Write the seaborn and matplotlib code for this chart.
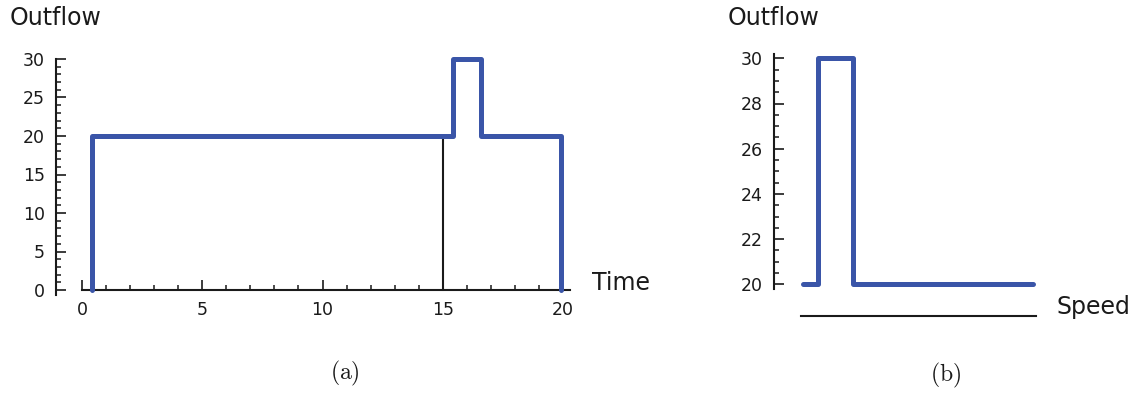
import matplotlib
matplotlib.use("Agg")
import matplotlib.pyplot as plt
import seaborn as sns
import pandas as pd
import numpy as np
from matplotlib.ticker import FixedLocator

# ---- data ----
time_pts = [0.42, 0.42, 15.43, 15.43, 16.6, 16.6, 19.9, 19.9]
outflow_time = [0, 20, 20, 30, 30, 20, 20, 0]
marker_time = [15, 15]
marker_level = [0, 20]

speed_pts = [0.0, 0.64, 0.64, 2.17, 2.17, 10.0]
outflow_speed = [20, 20, 30, 30, 20, 20]

xticks_a = [0, 5, 10, 15, 20]
yticks_a = [0, 5, 10, 15, 20, 25, 30]
yticks_b = [20, 22, 24, 26, 28, 30]

sns.set_style("ticks")
plt.rcParams["font.family"] = ["DejaVu Sans"]
plt.rcParams["mathtext.fontset"] = "cm"

W, H = 1141, 393
fig = plt.figure(figsize=(W / 100, H / 100), dpi=100)
blue = "#3a55a8"
ink = "#1a1a1a"

def px_axes(left, top, width, height):
    return fig.add_axes([left / W, 1 - (top + height) / H, width / W, height / H])

# ---------- panel (a) ----------
sx = (563 - 82) / 20.0
sy = (290 - 59) / 30.0
xl, xr = -1.3, 21.0
yb, yt = -1.0, 31.0
axa = px_axes(82 + xl * sx, 59 - (yt - 30) * sy, (xr - xl) * sx, (yt - yb) * sy)
df_a = pd.DataFrame({"t": time_pts, "q": outflow_time})
sns.lineplot(data=df_a, x="t", y="q", sort=False, estimator=None, ax=axa,
             color=blue, linewidth=3.6, clip_on=False, zorder=3)
sns.lineplot(x=marker_time, y=marker_level, sort=False, estimator=None, ax=axa,
             color=ink, linewidth=1.5, zorder=2)
axa.set_xlim(xl, xr)
axa.set_ylim(yb, yt)
for s in ["top", "right"]:
    axa.spines[s].set_visible(False)
axa.spines["bottom"].set_position(("data", 0))
axa.spines["bottom"].set_bounds(0, 20.3)
axa.spines["left"].set_position(("data", -1.08))
axa.spines["left"].set_bounds(-0.6, 30)
for s in ["bottom", "left"]:
    axa.spines[s].set_linewidth(1.5)
    axa.spines[s].set_color(ink)
axa.set_xticks(xticks_a)
axa.set_yticks(yticks_a)
axa.xaxis.set_minor_locator(FixedLocator(np.arange(xticks_a[0], xticks_a[-1] + 0.5, 1)))
axa.yaxis.set_minor_locator(FixedLocator(np.arange(yticks_a[0], yticks_a[-1] + 0.5, 1)))
axa.tick_params(which="major", direction="in", length=7, width=1.2, color=ink,
                labelsize=12.5, labelcolor=ink, pad=8)
axa.tick_params(which="minor", direction="in", length=3.5, width=1.1, color=ink)
axa.set_xlabel("")
axa.set_ylabel("")
fig.text(10 / W, 1 - 18 / H, "Outflow", fontsize=17, color=ink, ha="left", va="center")
fig.text(592 / W, 1 - 283 / H, "Time", fontsize=17, color=ink, ha="left", va="center")
fig.text(345 / W, 1 - 373 / H, r"$\mathrm{(a)}$", fontsize=17, color=ink, ha="center", va="center")

# ---------- panel (b) ----------
bx = (1033 - 803) / 10.0
by = (284.3 - 58.3) / 10.0
bxl, bxr = -1.5, 10.5
byb, byt = 18.3, 30.5
axb = px_axes(803 + bxl * bx, 58.3 - (byt - 30) * by, (bxr - bxl) * bx, (byt - byb) * by)
df_b = pd.DataFrame({"v": speed_pts, "q": outflow_speed})
sns.lineplot(data=df_b, x="v", y="q", sort=False, estimator=None, ax=axb,
             color=blue, linewidth=3.6, zorder=3)
axb.set_xlim(bxl, bxr)
axb.set_ylim(byb, byt)
for s in ["top", "right"]:
    axb.spines[s].set_visible(False)
axb.spines["bottom"].set_position(("data", 18.6))
axb.spines["bottom"].set_bounds(-0.1, 10.13)
axb.spines["left"].set_position(("data", -1.26))
axb.spines["left"].set_bounds(19.78, 30.2)
for s in ["bottom", "left"]:
    axb.spines[s].set_linewidth(1.5)
    axb.spines[s].set_color(ink)
axb.set_xticks([])
axb.set_yticks(yticks_b)
axb.yaxis.set_minor_locator(FixedLocator(np.arange(yticks_b[0], yticks_b[-1] + 0.25, 0.5)))
axb.tick_params(axis="y", which="major", direction="in", length=7, width=1.2, color=ink,
                labelsize=12.5, labelcolor=ink, pad=8)
axb.tick_params(axis="y", which="minor", direction="in", length=3.5, width=1.1, color=ink)
axb.set_xlabel("")
axb.set_ylabel("")
fig.text(728 / W, 1 - 18 / H, "Outflow", fontsize=17, color=ink, ha="left", va="center")
fig.text(1057 / W, 1 - 307 / H, "Speed", fontsize=17, color=ink, ha="left", va="center")
fig.text(946 / W, 1 - 375 / H, r"$\mathrm{(b)}$", fontsize=17, color=ink, ha="center", va="center")

fig.savefig("out.png", dpi=100)
